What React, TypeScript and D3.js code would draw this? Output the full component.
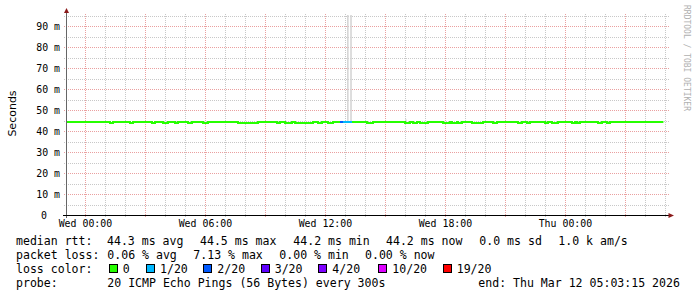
import React from "react";
import * as d3 from "d3";

// ---------- data ----------
const START = new Date(2026, 2, 10, 23, 3, 15);
const END = new Date(2026, 2, 12, 5, 3, 15);
const WED0 = new Date(2026, 2, 11, 0, 0, 0);
const Y_MAX = 95.24;

const medianBase = 44.3;
const dipValue = 43.8;
const dataStartHour = -0.95;
const dataEndHour = 28.9;
// hours after Wed 00:00 where the median dips slightly
const dipHours: [number, number][] = [
  [1.23, 1.38], [2.23, 2.38], [3.33, 3.48], [3.88, 4.13], [4.48, 4.63],
  [5.13, 5.33], [5.88, 6.13], [7.63, 8.63], [9.58, 9.73], [9.98, 10.33],
  [10.48, 11.38], [11.63, 11.83], [12.13, 12.38], [14.08, 14.38], [15.98, 16.23],
  [16.38, 16.58], [16.73, 17.13], [17.88, 18.23], [18.33, 18.58], [18.63, 18.83],
  [19.33, 19.88], [20.38, 20.58], [21.63, 21.83], [22.08, 22.23], [22.98, 23.13],
  [23.33, 23.63], [24.33, 24.48], [24.58, 24.73], [25.63, 25.83], [26.08, 26.23],
];
// loss segments: [fromHour, toHour, lostOf20]
const lossSegments: [number, number, number][] = [
  [12.73, 12.88, 2],
  [12.88, 13.33, 1],
];
// smoke: [fromHour, toHour, low, high]
const smokeSegments: [number, number, number, number][] = [
  [13.08, 13.16, 44.3, 95.24],
  [13.24, 13.32, 44.3, 95.24],
  [15.98, 16.06, 44.4, 45.6],
];

const lossLabels = ["0", "1/20", "2/20", "3/20", "4/20", "10/20", "19/20"];
const lossColors = ["#26ff00", "#00b8ff", "#0059ff", "#5e00ff", "#7e00ff", "#dd00ff", "#ff0000"];
const lossColorByCount: Record<number, string> = { 0: "#26ff00", 1: "#00b8ff", 2: "#0059ff", 3: "#5e00ff", 4: "#7e00ff", 10: "#dd00ff", 19: "#ff0000" };

const yTicks = [0, 10, 20, 30, 40, 50, 60, 70, 80, 90];
const yMinor = [5, 15, 25, 35, 45, 55, 65, 75, 85, 95];

const line1 = ["median rtt:", "44.3 ms avg", "44.5 ms max", "44.2 ms min", "44.2 ms now", "0.0 ms sd", "1.0 k am/s"];
const line1X = [16, 107, 200, 293.3, 386, 479.3, 558.3];
const line2 = ["packet loss:", "0.06 % avg", "7.13 % max", "0.00 % min", "0.00 % now"];
const line2X = [16, 107.3, 193.3, 279.3, 365];
const lossBoxX = [108.7, 146, 203.3, 260.7, 318.3, 378.3, 442.7];
const probeText = "20 ICMP Echo Pings (56 Bytes) every 300s";
const endText = "end: Thu Mar 12 05:03:15 2026";

// ---------- layout ----------
const W = 697, H = 297;
const L = 66.5, R = 666.5, T = 15, B = 215;
const MONO = "'DejaVu Sans Mono', monospace";

const hourDate = (h: number) => new Date(WED0.getTime() + h * 3600e3);

export default function App() {
  const x = d3.scaleTime().domain([START, END]).range([L, R]);
  const y = d3.scaleLinear().domain([0, Y_MAX]).range([B, T]);

  const hours = d3.timeHour.every(1)!.range(START, END);
  const minorV = hours.filter((d) => d.getHours() % 3 !== 0);
  const majorV = hours.filter((d) => d.getHours() % 3 === 0);
  const labelV = hours.filter((d) => d.getHours() % 6 === 0);

  // median step series
  const pts: [number, number][] = [[dataStartHour, medianBase]];
  dipHours.forEach(([a, b]) => {
    pts.push([a, dipValue]);
    pts.push([b, medianBase]);
  });
  pts.push([dataEndHour, medianBase]);
  const lineGen = d3
    .line<[number, number]>()
    .x((d) => x(hourDate(d[0])))
    .y((d) => y(d[1]))
    .curve(d3.curveStepAfter);

  const medianAt = (h: number) => {
    let v = medianBase;
    dipHours.forEach(([a, b]) => {
      if (h >= a && h < b) v = dipValue;
    });
    return v;
  };

  const fmt = d3.timeFormat("%a %H:%M");

  return (
    <svg width={W} height={H} style={{ display: "block", position: "absolute", left: 0, top: 0 }}>
      <rect width={W} height={H} fill="#ffffff" />
      {/* minor grid */}
      <g stroke="#c8c8c8" strokeDasharray="1,1" shapeRendering="crispEdges">
        {yMinor.map((v) => (
          <line key={"hm" + v} x1={L - 3} x2={R + 3} y1={Math.round(y(v)) + 0.5} y2={Math.round(y(v)) + 0.5} />
        ))}
        {minorV.map((d) => (
          <line key={"vm" + d.getTime()} x1={Math.round(x(d)) + 0.5} x2={Math.round(x(d)) + 0.5} y1={T - 1} y2={B + 3} />
        ))}
      </g>
      {/* major grid */}
      <g stroke="#eaa0a0" strokeDasharray="1,1" shapeRendering="crispEdges">
        {yTicks.slice(1).map((v) => (
          <line key={"hM" + v} x1={L - 3} x2={R + 3} y1={Math.round(y(v)) + 0.5} y2={Math.round(y(v)) + 0.5} />
        ))}
        {majorV.map((d) => (
          <line key={"vM" + d.getTime()} x1={Math.round(x(d)) + 0.5} x2={Math.round(x(d)) + 0.5} y1={T - 1} y2={B + 3} />
        ))}
      </g>
      {/* smoke */}
      {smokeSegments.map(([a, b, lo, hi], i) => (
        <rect
          key={"s" + i}
          x={x(hourDate(a))}
          width={x(hourDate(b)) - x(hourDate(a))}
          y={y(hi)}
          height={y(lo) - y(hi)}
          fill="#d6d6d6"
        />
      ))}
      {/* median line */}
      <path d={lineGen(pts) || ""} fill="none" stroke={lossColorByCount[0]} strokeWidth={2} />
      {lossSegments.map(([a, b, n], i) => (
        <line
          key={"l" + i}
          x1={x(hourDate(a))}
          x2={x(hourDate(b))}
          y1={y(medianAt(a))}
          y2={y(medianAt(a))}
          stroke={lossColorByCount[n]}
          strokeWidth={2}
        />
      ))}
      {/* axes */}
      <line x1={L} x2={L} y1={B + 3} y2={11} stroke="#666" shapeRendering="crispEdges" />
      <line x1={L - 4} x2={R + 4} y1={B + 0.5} y2={B + 0.5} stroke="#000" shapeRendering="crispEdges" />
      <path d={`M${L - 2.5},13 L${L + 2.5},13 L${L},8 Z`} fill="#8b1a1a" />
      <path d={`M${R + 2},${B - 2} L${R + 2},${B + 3} L${R + 7.5},${B + 0.5} Z`} fill="#8b1a1a" />
      {/* y labels */}
      <g fontFamily={MONO} fontSize={9.9} fill="#000">
        {yTicks.map((v) => (
          <text key={"yt" + v} x={v === 0 ? 47 : 60} y={y(v) + 3.5} textAnchor="end">
            {v === 0 ? "0" : `${v} m`}
          </text>
        ))}
        {labelV.map((d) => (
          <text key={"xt" + d.getTime()} x={x(d)} y={227} textAnchor="middle">
            {fmt(d)}
          </text>
        ))}
      </g>
      <text
        transform="translate(15.5,113.5) rotate(-90)"
        textAnchor="middle"
        fontFamily="'DejaVu Sans', sans-serif"
        fontSize={11}
        fill="#000"
      >
        Seconds
      </text>
      <text
        transform="translate(684,5) rotate(90)"
        fontFamily={MONO}
        fontSize={8}
        fill="#b0b0b0"
      >
        RRDTOOL / TOBI OETIKER
      </text>
      {/* legend */}
      <g fontFamily={MONO} fontSize={11.55} fill="#000" style={{ whiteSpace: "pre" }}>
        {line1.map((t, i) => (
          <text key={"a" + i} x={line1X[i]} y={245}>{t}</text>
        ))}
        {line2.map((t, i) => (
          <text key={"b" + i} x={line2X[i]} y={259}>{t}</text>
        ))}
        <text x={16} y={273}>loss color:</text>
        {lossLabels.map((t, i) => (
          <g key={"c" + i}>
            <rect x={lossBoxX[i] + 0.5} y={264.5} width={8} height={8} fill={lossColors[i]} stroke="#000" strokeWidth={1} shapeRendering="crispEdges" />
            <text x={lossBoxX[i] + 14} y={273}>{t}</text>
          </g>
        ))}
        <text x={16} y={287}>probe:</text>
        <text x={107.3} y={287}>{probeText}</text>
        <text x={478.3} y={287}>{endText}</text>
      </g>
    </svg>
  );
}
